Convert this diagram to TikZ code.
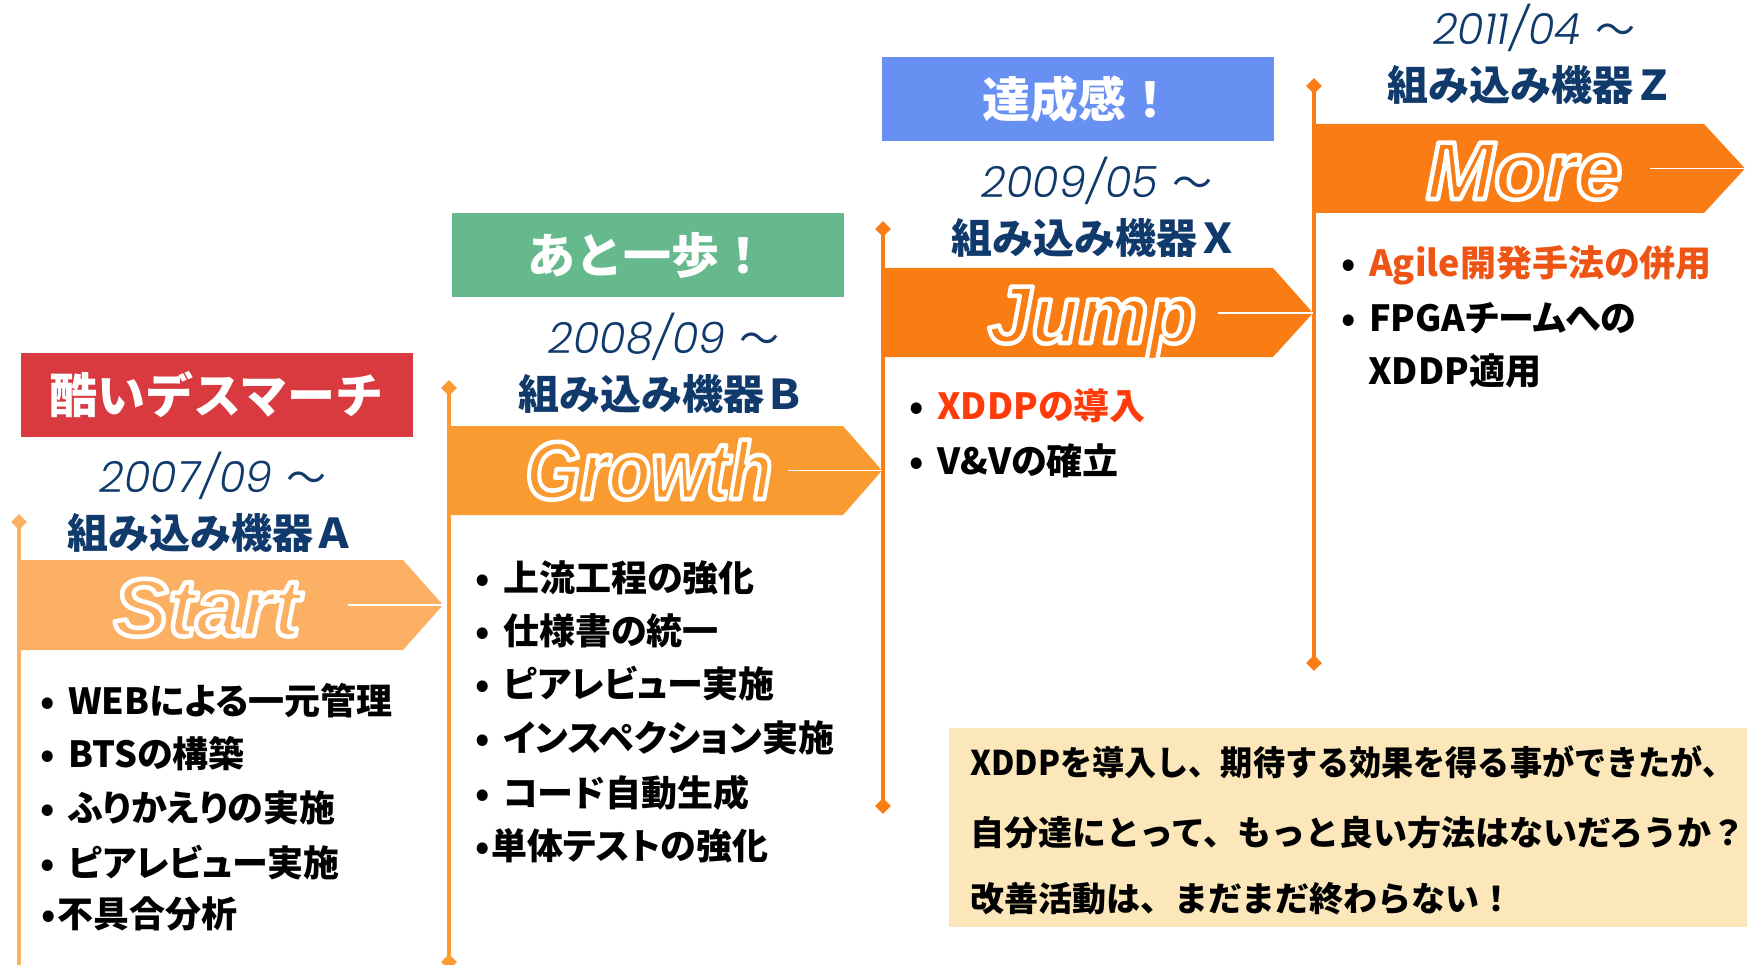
\documentclass[tikz,border=0pt]{standalone}
\usepackage{fontspec}
\usepackage{graphicx}
\usetikzlibrary{shapes.geometric}
\newfontfamily\jpb{Noto Sans CJK JP}[UprightFont=* Black]
\newfontfamily\jpbp{Noto Sans CJK JP}[UprightFont=* Black,RawFeature=+palt]
\newfontfamily\jpr{Noto Sans CJK JP}
\newfontfamily\datef{Poppins}[UprightFont=* Light Italic]
\newfontfamily\bigf{Liberation Sans}[UprightFont=* Bold Italic]
\newcommand\fsz[1]{\fontsize{#1}{#1}\selectfont}
\newcommand\bu{\makebox[0pt][c]{•}\hspace{21pt}}
\newcommand\bus{\makebox[0pt][c]{•}\hspace{9pt}}
\newcommand\outl[1]{\special{pdf:literal direct 2 Tr 1 1 1 RG 4.5 w 1 j}#1\special{pdf:literal direct 0 Tr}}
\definecolor{cStart}{HTML}{FBB064}
\definecolor{cGrowth}{HTML}{F99B30}
\definecolor{cJump}{HTML}{FA7D14}
\definecolor{cMore}{HTML}{F97C15}
\definecolor{navy}{HTML}{103A6B}
\definecolor{tagred}{HTML}{D93A3F}
\definecolor{taggreen}{HTML}{66B98C}
\definecolor{tagblue}{HTML}{6890F2}
\definecolor{notebg}{HTML}{FBE7BA}
\definecolor{hotA}{HTML}{FF3B0A}
\definecolor{hotB}{HTML}{EE5515}
\begin{document}
\begin{tikzpicture}[x=1pt,y=-1pt,
  vline/.style={line width=4pt,draw=#1},
  dia/.style={diamond,fill=#1,draw=none,inner sep=0pt,minimum width=16pt,minimum height=16pt},
  tag/.style={fill=#1,minimum width=392pt,minimum height=84pt,inner sep=0pt,text=white,font=\jpb\fsz{48}},
  datelbl/.style={anchor=base,inner sep=0pt,text=navy},
  dev/.style={anchor=base,inner sep=0pt,text=navy,font=\jpb\fsz{41}},
  word/.style={anchor=base,inner sep=0pt,font=\bigf\fsz{82}},
  item/.style={anchor=base west,inner sep=0pt,font=\jpbp\fsz{36}},
  note/.style={anchor=base west,inner sep=0pt,font=\jpb\fsz{34}},
  inner/.style={draw=white,line width=1.5pt}]
\useasboundingbox (0,0) rectangle (1747,965);
\fill[white] (0,0) rectangle (1747,965);

% vertical timelines
\node[dia=cStart] (sT) at (19,522) {};
\coordinate (sB) at (19,975);
\draw[vline=cStart] (sT.center) -- (sB);
\node[dia=cGrowth] (gT) at (449,388) {};
\node[dia=cGrowth] (gB) at (449,962) {};
\draw[vline=cGrowth] (gT.center) -- (gB.center);
\node[dia=cJump] (jT) at (883,229) {};
\node[dia=cJump] (jB) at (883,806) {};
\draw[vline=cJump] (jT.center) -- (jB.center);
\node[dia=cMore] (mT) at (1314,86) {};
\node[dia=cMore] (mB) at (1314,663) {};
\draw[vline=cMore] (mT.center) -- (mB.center);

% arrows
\fill[cStart] (17,560) -- (403,560) -- (443,605) -- (403,650) -- (17,650) -- cycle;
\draw[inner] (348,605) -- (443,605);
\fill[cGrowth] (447,426) -- (843,426) -- (882,470.5) -- (843,515) -- (447,515) -- cycle;
\draw[inner] (788,470.5) -- (882,470.5);
\fill[cJump] (881,268) -- (1273,268) -- (1313,313) -- (1273,357) -- (881,357) -- cycle;
\draw[inner] (1218,313) -- (1313,313);
\fill[cMore] (1312,124) -- (1704,124) -- (1745,168.5) -- (1704,213) -- (1312,213) -- cycle;
\draw[inner] (1650,168.5) -- (1745,168.5);

\node[word] (wS) at (207,636) {\color{cStart}\outl{Start}};
\node[word] (wG) at (649,499) {\scalebox{0.86}[1]{\color{cGrowth}\outl{Growth}}};
\node[word] (wJ) at (1092,343) {\scalebox{0.95}[1]{\color{cJump}\outl{Jump}}};
\node[word] (wM) at (1524,199) {\color{cMore}\outl{More}};

% tags
\node[tag=tagred] (tA) at (216.5,395) {酷いデスマーチ};
\node[tag=taggreen] (tB) at (647.5,255.5) {あと一歩！};
\node[tag=tagblue] (tX) at (1078,99) {達成感！};

% dates
\node[datelbl] (dA) at (213,492) {{\datef\fsz{43}2007/09}\hspace{14pt}{\jpr\fsz{40}～}};
\node[datelbl] (dB) at (664,353) {{\datef\fsz{43}2008/09}\hspace{14pt}{\jpr\fsz{40}～}};
\node[datelbl] (dX) at (1097,198) {{\datef\fsz{43}2009/05}\hspace{14pt}{\jpr\fsz{40}～}};
\node[datelbl] (dZ) at (1534,45) {{\datef\fsz{43}2011/04}\hspace{14pt}{\jpr\fsz{40}～}};

% devices
\node[dev] (eA) at (211,548) {組み込み機器Ａ};
\node[dev] (eB) at (662,409) {組み込み機器Ｂ};
\node[dev] (eX) at (1095,254) {組み込み機器Ｘ};
\node[dev] (eZ) at (1531,101) {組み込み機器Ｚ};

% lists
\node[item] (s1) at (47,714) {\bu WEBによる一元管理};
\node[item] (s2) at (47,767) {\bu BTSの構築};
\node[item] (s3) at (47,821) {\bu ふりかえりの実施};
\node[item] (s4) at (47,876) {\bu ピアレビュー実施};
\node[item] (s5) at (48,927) {\bus 不具合分析};

\node[item] (g1) at (482,591) {\bu 上流工程の強化};
\node[item] (g2) at (482,644) {\bu 仕様書の統一};
\node[item] (g3) at (482,697) {\bu ピアレビュー実施};
\node[item] (g4) at (482,751) {\bu インスペクション実施};
\node[item] (g5) at (482,806) {\bu コード自動生成};
\node[item] (g6) at (482,859) {\bus 単体テストの強化};

\node[item] (j1) at (916,419) {\bu \textcolor{hotA}{XDDPの導入}};
\node[item] (j2) at (916,474) {\bu V\&Vの確立};

\node[item] (m1) at (1348,277) {\bu \textcolor{hotB}{Agile開発手法の併用}};
\node[item] (m2) at (1348,331) {\bu FPGAチームへの};
\node[item] (m3) at (1368,384) {XDDP適用};

% note box
\fill[notebg] (949,728) rectangle (1747,927);
\node[note] (n1) at (970,775) {\scalebox{0.945}[1]{XDDPを導入し、期待する効果を得る事ができたが、}};
\node[note] (n2) at (970,845) {自分達にとって、もっと良い方法はないだろうか？};
\node[note] (n3) at (970,911) {改善活動は、まだまだ終わらない！};
\end{tikzpicture}
\end{document}
